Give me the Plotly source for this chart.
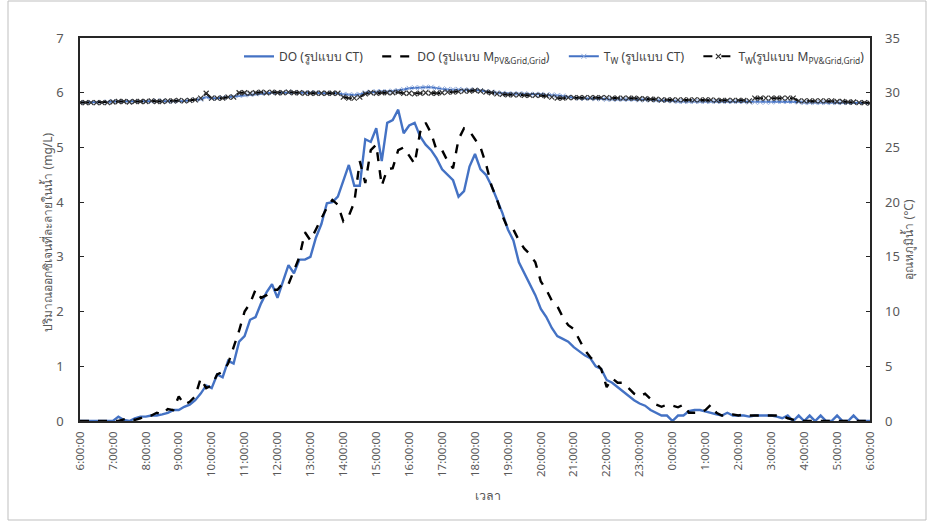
import pandas as pd
import plotly.graph_objects as go

# ---------------- data (10-minute readings, 06:00 -> 06:00 next day) ----------------
DO_CT = [
    0, 0, 0, 0, 0, 0,
    0, 0.08, 0.02, 0, 0.05, 0.08,
    0.08, 0.1, 0.1, 0.12, 0.15, 0.2,
    0.2, 0.26, 0.3, 0.38, 0.5, 0.65,
    0.6, 0.85, 0.8, 1.1, 1.05, 1.45,
    1.55, 1.85, 1.9, 2.15, 2.35, 2.5,
    2.25, 2.55, 2.85, 2.7, 2.95, 2.95,
    3.0, 3.35, 3.6, 3.98, 4.0, 4.1,
    4.4, 4.68, 4.3, 4.3, 5.15, 5.1,
    5.35, 4.75, 5.45, 5.5, 5.69, 5.26,
    5.4, 5.45, 5.2, 5.05, 4.95, 4.8,
    4.6, 4.5, 4.4, 4.1, 4.2, 4.65,
    4.88, 4.6, 4.5, 4.3, 4.05, 3.8,
    3.5, 3.3, 2.9, 2.7, 2.5, 2.3,
    2.05, 1.9, 1.7, 1.55, 1.5, 1.45,
    1.35, 1.28, 1.2, 1.15, 1.0, 0.95,
    0.75, 0.7, 0.62, 0.53, 0.45, 0.38,
    0.32, 0.28, 0.2, 0.15, 0.1, 0.1,
    0.0, 0.1, 0.1, 0.18, 0.2, 0.2,
    0.18, 0.15, 0.12, 0.1, 0.15, 0.1,
    0.1, 0.1, 0.08, 0.1, 0.1, 0.1,
    0.1, 0.08, 0.05, 0.1, 0.0, 0.1,
    0.0, 0.1, 0.0, 0.1, 0.0, 0.0,
    0.1, 0.0, 0.0, 0.1, 0.0, 0.0, 0.0,
]

DO_M = [
    0, 0, 0, 0, 0, 0,
    0, 0, 0.03, 0.05, 0.02, 0.05,
    0.1, 0.1, 0.15, 0.12, 0.22, 0.2,
    0.45, 0.3, 0.35, 0.45, 0.78, 0.6,
    0.65, 0.85, 0.9, 1.05, 1.35, 1.65,
    2.0, 2.15, 2.4, 2.25, 2.3, 2.4,
    2.4, 2.52, 2.5, 2.75, 3.0, 3.45,
    3.3, 3.5, 3.7, 3.9, 4.04, 3.95,
    3.65, 3.75, 4.0, 4.75, 4.35, 4.95,
    5.05, 4.3, 4.6, 4.62, 4.95, 5.0,
    4.85, 4.7, 5.28, 5.45, 5.26, 4.95,
    4.95, 4.75, 4.62, 5.15, 5.35, 5.3,
    5.15, 5.0, 4.7, 4.3, 4.05, 3.75,
    3.52, 3.5, 3.3, 3.15, 3.05, 2.9,
    2.55, 2.4, 2.2, 2.1, 1.9, 1.75,
    1.68, 1.5, 1.3, 1.17, 1.05, 0.95,
    0.62, 0.78, 0.7, 0.7, 0.6, 0.5,
    0.45, 0.5, 0.4, 0.3, 0.26, 0.3,
    0.28, 0.25, 0.3, 0.15, 0.15, 0.15,
    0.2, 0.3, 0.15, 0.1, 0.1, 0.12,
    0.1, 0.12, 0.1, 0.1, 0.1, 0.1,
    0.1, 0.1, 0.1, 0.05, 0.02, 0.0,
    0, 0, 0, 0, 0, 0,
    0, 0, 0, 0, 0, 0, 0,
]

TW_CT = [
    29.1, 29.1, 29.1, 29.1, 29.1, 29.15,
    29.2, 29.2, 29.2, 29.2, 29.2, 29.2,
    29.2, 29.2, 29.25, 29.25, 29.2, 29.2,
    29.25, 29.25, 29.3, 29.35, 29.4, 29.6,
    29.5, 29.5, 29.55, 29.6, 29.65, 29.75,
    29.8, 29.85, 29.9, 29.95, 30.0, 30.0,
    30.0, 30.0, 30.05, 30.0, 30.0, 30.0,
    30.0, 30.0, 29.95, 29.95, 29.95, 29.95,
    29.85, 29.8, 29.8, 29.85, 30.0, 30.05,
    30.1, 30.1, 30.1, 30.15, 30.2, 30.3,
    30.4, 30.45, 30.45, 30.5, 30.5, 30.4,
    30.35, 30.3, 30.3, 30.3, 30.25, 30.25,
    30.25, 30.2, 30.1, 30.05, 30.0, 29.95,
    29.9, 29.9, 29.9, 29.9, 29.85, 29.85,
    29.85, 29.8, 29.8, 29.75, 29.7, 29.6,
    29.55, 29.5, 29.5, 29.5, 29.45, 29.45,
    29.4, 29.4, 29.4, 29.4, 29.4, 29.4,
    29.35, 29.35, 29.35, 29.3, 29.3, 29.3,
    29.25, 29.2, 29.2, 29.2, 29.2, 29.2,
    29.2, 29.2, 29.2, 29.2, 29.2, 29.2,
    29.2, 29.2, 29.15, 29.15, 29.15, 29.15,
    29.15, 29.2, 29.2, 29.2, 29.2, 29.15,
    29.1, 29.1, 29.1, 29.1, 29.1, 29.1,
    29.1, 29.1, 29.1, 29.1, 29.1, 29.1, 29.05,
]

TW_M = [
    29.1, 29.1, 29.1, 29.1, 29.1, 29.1,
    29.15, 29.2, 29.2, 29.15, 29.2, 29.2,
    29.2, 29.25, 29.2, 29.2, 29.25, 29.25,
    29.3, 29.25, 29.3, 29.35, 29.5, 29.95,
    29.5, 29.5, 29.5, 29.6, 29.6, 30.0,
    30.0, 29.95, 30.0, 30.05, 30.0, 30.05,
    30.0, 30.0, 30.05, 30.0, 30.0, 29.95,
    29.95, 29.95, 29.95, 29.95, 29.95, 29.95,
    29.6, 29.5, 29.5, 29.6, 29.9, 30.0,
    29.95, 30.0, 30.0, 30.0, 30.05, 29.95,
    29.95, 29.9, 29.95, 30.0, 29.95, 29.95,
    30.0, 30.05, 30.05, 30.1, 30.15, 30.15,
    30.2, 30.15, 30.05, 30.0, 29.9, 29.85,
    29.8, 29.8, 29.8, 29.75, 29.75, 29.75,
    29.75, 29.7, 29.6, 29.5, 29.5, 29.55,
    29.55, 29.55, 29.55, 29.55, 29.55, 29.55,
    29.55, 29.5, 29.5, 29.5, 29.5, 29.5,
    29.45, 29.45, 29.4, 29.4, 29.35, 29.35,
    29.35, 29.35, 29.35, 29.35, 29.35, 29.35,
    29.35, 29.35, 29.3, 29.3, 29.3, 29.3,
    29.3, 29.3, 29.25, 29.5, 29.5, 29.5,
    29.5, 29.5, 29.5, 29.5, 29.5, 29.25,
    29.25, 29.25, 29.25, 29.25, 29.25, 29.25,
    29.2, 29.2, 29.15, 29.15, 29.1, 29.1, 29.05,
]

X_TICK_LABELS = [
    "6:00:00", "7:00:00", "8:00:00", "9:00:00", "10:00:00", "11:00:00",
    "12:00:00", "13:00:00", "14:00:00", "15:00:00", "16:00:00", "17:00:00",
    "18:00:00", "19:00:00", "20:00:00", "21:00:00", "22:00:00", "23:00:00",
    "0:00:00", "1:00:00", "2:00:00", "3:00:00", "4:00:00", "5:00:00", "6:00:00",
]

SERIES_NAMES = [
    "DO (รูปแบบ CT)",
    "DO (รูปแบบ M<sub>PV&Grid,Grid</sub>)",
    "T<sub>W</sub> (รูปแบบ CT)",
    "T<sub>W</sub>(รูปแบบ M<sub>PV&Grid,Grid</sub>)",
]

Y_LEFT_TITLE = "ปริมาณออกซิเจนที่ละลายในน้ำ (mg/L)"
Y_RIGHT_TITLE = "อุณหภูมิน้ำ (°C)"
X_TITLE = "เวลา"

# ---------------- figure ----------------
times = pd.date_range("2021-01-01 06:00", "2021-01-02 06:00", freq="10min")
tick_times = pd.date_range("2021-01-01 06:00", "2021-01-02 06:00", freq="1h")

FONT = "Tahoma, 'Noto Sans', 'DejaVu Sans', sans-serif"
BLUE = "#4472C4"
TXT = "#595959"
PAD = "\u00a0\u00a0\u00a0"

fig = go.Figure()
fig.add_trace(go.Scatter(x=times, y=DO_CT, name=SERIES_NAMES[0] + PAD, mode="lines",
                         line=dict(color=BLUE, width=2.4)))
fig.add_trace(go.Scatter(x=times, y=DO_M, name=SERIES_NAMES[1] + PAD, mode="lines",
                         line=dict(color="black", width=2.4, dash="dash")))
fig.add_trace(go.Scatter(x=times, y=TW_CT, name=SERIES_NAMES[2] + PAD, mode="lines+markers",
                         line=dict(color=BLUE, width=2),
                         marker=dict(symbol="x-thin", size=5, color="#8FAADC",
                                     line=dict(color="#8FAADC", width=1)),
                         yaxis="y2"))
fig.add_trace(go.Scatter(x=times, y=TW_M, name=SERIES_NAMES[3], mode="lines+markers",
                         line=dict(color="black", width=2, dash="dash"),
                         marker=dict(symbol="x-thin", size=5, color="#333333",
                                     line=dict(color="#333333", width=1.2)),
                         yaxis="y2"))

L, R, T, B = 80, 59, 38, 101
W, H = 929, 522
pw, ph = W - L - R, H - T - B

def px_x(x):
    return (x - L) / pw

def px_y(y):
    return (H - B - y) / ph

fig.update_layout(
    width=W, height=H,
    margin=dict(l=L, r=R, t=T, b=B),
    paper_bgcolor="white", plot_bgcolor="white",
    font=dict(family=FONT, color=TXT, size=12),
    showlegend=True,
    legend=dict(orientation="h", x=1.0, xanchor="right", y=0.99, yanchor="top",
                bgcolor="rgba(255,255,255,0)", font=dict(size=12, color="#404040"),
                itemwidth=30, tracegroupgap=0, traceorder="normal"),
    xaxis=dict(
        range=[times[0], times[-1]],
        tickmode="array", tickvals=list(tick_times), ticktext=X_TICK_LABELS,
        tickangle=-90, tickfont=dict(size=11.5, color=TXT),
        showgrid=False, zeroline=False,
        showline=True, linecolor="#262626", linewidth=1.5, mirror=True,
        ticks="", ticklabelstandoff=4,
    ),
    yaxis=dict(
        range=[0, 7], dtick=1, showgrid=False, zeroline=False,
        showline=True, linecolor="#262626", linewidth=1.5, mirror=True,
        ticks="inside", ticklen=4, tickcolor="#262626",
        tickfont=dict(size=13, color=TXT), ticklabelstandoff=12,
    ),
    yaxis2=dict(
        range=[0, 35], dtick=5, overlaying="y", side="right",
        showgrid=False, zeroline=False, showline=False,
        ticks="inside", ticklen=4, tickcolor="#262626",
        tickfont=dict(size=13, color=TXT), ticklabelstandoff=14,
    ),
    annotations=[
        dict(text=Y_LEFT_TITLE, xref="paper", yref="paper", x=px_x(36), y=px_y(232),
             textangle=-90, showarrow=False, font=dict(size=12, color=TXT)),
        dict(text=Y_RIGHT_TITLE, xref="paper", yref="paper", x=px_x(918), y=px_y(240),
             textangle=-90, showarrow=False, font=dict(size=12, color=TXT)),
        dict(text=X_TITLE, xref="paper", yref="paper", x=px_x(488), y=px_y(506),
             showarrow=False, font=dict(size=12.5, color=TXT)),
    ],
    shapes=[
        dict(type="rect", xref="paper", yref="paper",
             x0=px_x(8), x1=px_x(926), y0=px_y(520), y1=px_y(1),
             line=dict(color="#BFBFBF", width=1), fillcolor="rgba(0,0,0,0)", layer="below"),
    ],
)

fig.write_html("out.html", config={"displayModeBar": False},
               post_script="document.body.style.margin='0';document.body.style.padding='0';")
